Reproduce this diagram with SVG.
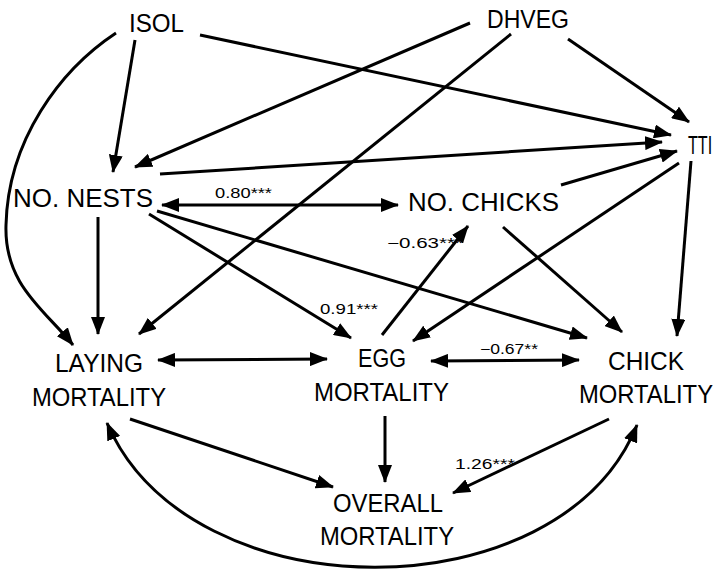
<svg xmlns="http://www.w3.org/2000/svg" width="724" height="577" viewBox="0 0 724 577">
<style>
.n{font-family:"Liberation Sans",Arial,sans-serif;font-size:26px;fill:#000}
.l{font-family:"Liberation Sans",Arial,sans-serif;font-size:14px;fill:#000}
.c{fill:none;stroke:#000;stroke-width:3}
</style>
<defs>
<marker id="ah" markerUnits="userSpaceOnUse" markerWidth="18" markerHeight="14" refX="17" refY="7" orient="auto-start-reverse" viewBox="0 0 18 14">
<path d="M0,0 L18,7 L0,14 z" fill="#000"/>
</marker>
</defs>
<rect width="724" height="577" fill="#fff"/>
<g id="connectors">
<line class="c" x1="135" y1="40" x2="113" y2="172" marker-end="url(#ah)"/>
<line class="c" x1="200" y1="35" x2="671" y2="135" marker-end="url(#ah)"/>
<path class="c" d="M116,33 C60,70 8,140 6,225 C4,285 45,310 73,345" marker-end="url(#ah)"/>
<line class="c" x1="470" y1="23" x2="135" y2="167" marker-end="url(#ah)"/>
<line class="c" x1="511" y1="34" x2="139" y2="334" marker-end="url(#ah)"/>
<line class="c" x1="568" y1="39" x2="689" y2="122" marker-end="url(#ah)"/>
<line class="c" x1="160" y1="174" x2="662" y2="142" marker-end="url(#ah)"/>
<line class="c" x1="561" y1="185" x2="677" y2="151" marker-end="url(#ah)"/>
<line class="c" x1="679" y1="163" x2="413" y2="341" marker-end="url(#ah)"/>
<line class="c" x1="691" y1="161" x2="677" y2="336" marker-end="url(#ah)"/>
<line class="c" x1="162" y1="205" x2="398" y2="205" marker-start="url(#ah)" marker-end="url(#ah)"/>
<line class="c" x1="98" y1="217" x2="98" y2="334" marker-end="url(#ah)"/>
<line class="c" x1="149" y1="214" x2="351" y2="338" marker-end="url(#ah)"/>
<line class="c" x1="157" y1="211" x2="587" y2="338" marker-end="url(#ah)"/>
<line class="c" x1="503" y1="227" x2="622" y2="332" marker-end="url(#ah)"/>
<line class="c" x1="382" y1="335" x2="468" y2="226" marker-end="url(#ah)"/>
<line class="c" x1="158" y1="360" x2="327" y2="359" marker-start="url(#ah)" marker-end="url(#ah)"/>
<line class="c" x1="431" y1="361" x2="579" y2="360" marker-start="url(#ah)" marker-end="url(#ah)"/>
<line class="c" x1="130" y1="419" x2="333" y2="487" marker-end="url(#ah)"/>
<line class="c" x1="385" y1="416" x2="385" y2="482" marker-end="url(#ah)"/>
<line class="c" x1="609" y1="419" x2="453" y2="493" marker-end="url(#ah)"/>
<path class="c" d="M107,423 C190,615 560,615 637,425" marker-start="url(#ah)" marker-end="url(#ah)"/>
<text class="l" x="215" y="198" textLength="57" lengthAdjust="spacingAndGlyphs">0.80***</text>
<text class="l" x="387" y="248" textLength="76" lengthAdjust="spacingAndGlyphs">−0.63***</text>
<text class="l" x="320" y="314" textLength="58" lengthAdjust="spacingAndGlyphs">0.91***</text>
<text class="l" x="480" y="354" textLength="58" lengthAdjust="spacingAndGlyphs">−0.67**</text>
<text class="l" x="455" y="469" textLength="60" lengthAdjust="spacingAndGlyphs">1.26***</text>
</g>
<g id="isol"><text class="n" x="129" y="32" textLength="55" lengthAdjust="spacingAndGlyphs">ISOL</text></g>
<g id="dhveg"><text class="n" x="487" y="28" textLength="82" lengthAdjust="spacingAndGlyphs">DHVEG</text></g>
<g id="tti"><text class="n" transform="translate(688,154) scale(0.62,1)" x="0" y="0">TTI</text></g>
<g id="no-nests"><text class="n" x="13" y="207" textLength="140" lengthAdjust="spacingAndGlyphs">NO. NESTS</text></g>
<g id="no-chicks"><text class="n" x="408" y="211" textLength="151" lengthAdjust="spacingAndGlyphs">NO. CHICKS</text></g>
<g id="laying-mortality">
<text class="n" x="55" y="372" textLength="88" lengthAdjust="spacingAndGlyphs">LAYING</text>
<text class="n" x="32" y="406" textLength="134" lengthAdjust="spacingAndGlyphs">MORTALITY</text>
</g>
<g id="egg-mortality">
<text class="n" x="358" y="367" textLength="48" lengthAdjust="spacingAndGlyphs">EGG</text>
<text class="n" x="314" y="401" textLength="135" lengthAdjust="spacingAndGlyphs">MORTALITY</text>
</g>
<g id="chick-mortality">
<text class="n" x="608" y="370" textLength="76" lengthAdjust="spacingAndGlyphs">CHICK</text>
<text class="n" x="579" y="403" textLength="134" lengthAdjust="spacingAndGlyphs">MORTALITY</text>
</g>
<g id="overall-mortality">
<text class="n" x="333" y="512" textLength="110" lengthAdjust="spacingAndGlyphs">OVERALL</text>
<text class="n" x="320" y="545" textLength="134" lengthAdjust="spacingAndGlyphs">MORTALITY</text>
</g>
</svg>
